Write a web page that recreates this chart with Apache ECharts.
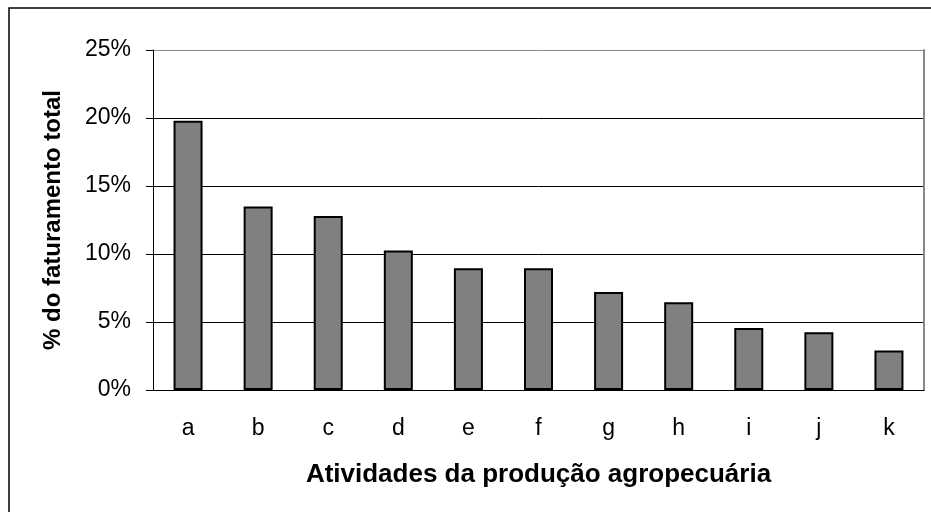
<!DOCTYPE html>
<html lang="pt">
  <head>
    <meta charset="UTF-8" />
    <title>faturamento</title>
    <style>
      html, body { margin: 0; padding: 0; background: #fff; }
      #chart { width: 931px; height: 512px; }
    </style>
  </head>
  <body>
    <div id="chart"></div>
    <script src="https://cdn.jsdelivr.net/npm/echarts@6/dist/echarts.min.js"></script>
    <script>
      // atividades e % do faturamento total
      const categorias = ["a", "b", "c", "d", "e", "f", "g", "h", "i", "j", "k"];
      const valores = [19.8, 13.5, 12.8, 10.25, 8.95, 8.95, 7.2, 6.45, 4.55, 4.25, 2.9];
      const yTicks = [0, 5, 10, 15, 20, 25];

      const font = "Liberation Sans, Arial, sans-serif";
      const chart = echarts.init(document.getElementById("chart"));

      chart.setOption({
        animation: false,
        textStyle: { fontFamily: font },
        graphic: [
          {
            type: "rect",
            shape: { x: 9, y: 8, width: 960, height: 560 },
            style: { fill: null, stroke: "#000", lineWidth: 1.5 },
          },
        ],
        grid: { left: 153, right: 7, top: 50, bottom: 122 },
        xAxis: {
          type: "category",
          data: categorias,
          name: "Atividades da produção agropecuária",
          nameLocation: "middle",
          nameGap: 72,
          nameTextStyle: { fontSize: 26, fontWeight: "bold", color: "#000" },
          axisLine: { lineStyle: { color: "#000", width: 1 } },
          axisTick: { length: 6, lineStyle: { color: "#000" } },
          axisLabel: { fontSize: 23, color: "#000", margin: 27 },
        },
        yAxis: [
          {
            type: "value",
            min: yTicks[0],
            max: yTicks[yTicks.length - 1],
            interval: 5,
            name: "% do faturamento total",
            nameLocation: "middle",
            nameGap: 88,
            nameTextStyle: { fontSize: 24, fontWeight: "bold", color: "#000" },
            axisLine: { show: true, lineStyle: { color: "#000", width: 1 } },
            axisTick: { show: true, length: 7, lineStyle: { color: "#000" } },
            axisLabel: { fontSize: 23, color: "#000", margin: 22, formatter: "{value}%" },
            splitLine: {
              lineStyle: { color: ["#000", "#000", "#000", "#000", "#000", "#888"], width: 1 },
            },
          },
          {
            type: "value",
            position: "right",
            min: 0,
            max: 25,
            axisLine: { show: true, lineStyle: { color: "#888", width: 2 } },
            axisTick: { show: false },
            axisLabel: { show: false },
            splitLine: { show: false },
          },
        ],
        series: [
          {
            type: "bar",
            data: valores,
            barWidth: 29,
            itemStyle: { color: "#808080", borderColor: "#000", borderWidth: 2 },
          },
        ],
      });
    </script>
  </body>
</html>
